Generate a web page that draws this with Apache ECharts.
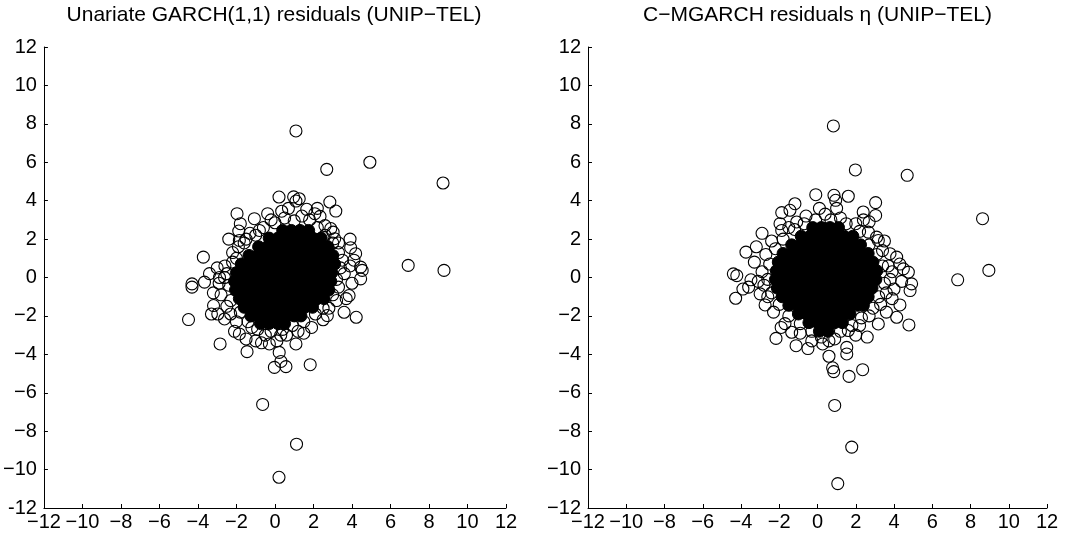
<!DOCTYPE html>
<html>
<head>
<meta charset="utf-8">
<script src="https://cdn.jsdelivr.net/npm/echarts@6/dist/echarts.min.js"></script>
<style>
html,body{margin:0;padding:0;background:#fff;}
#chart{width:1085px;height:537px;}
</style>
</head>
<body>
<div id="chart"></div>
<script>
// ---- Data ----
const titles = ['Unariate GARCH(1,1) residuals (UNIP\u2212TEL)', 'C\u2212MGARCH residuals \u03b7 (UNIP\u2212TEL)'];
const tickValues = [-12,-10,-8,-6,-4,-2,0,2,4,6,8,10,12];
const xTickLabels = ['\u221212','\u221210','\u22128','\u22126','\u22124','\u22122','0','2','4','6','8','10','12'];
const yTickLabelsLeft = ['-12','\u221210','\u22128','\u22126','\u22124','\u22122','0','2','4','6','8','10','12'];
const yTickLabelsRight = ['\u221212','\u221210','\u22128','\u22126','\u22124','\u22122','0','2','4','6','8','10','12'];

// Left panel: dense core of the cloud (overlapping markers appear solid black)
const leftCore = [
 [0.4,2.45],[0.85,2.45],[1.3,2.45],[1.75,2.45],
 [-0.3,2.05],[0.15,2.05],[0.6,2.05],[1.05,2.05],[1.5,2.05],[1.95,2.05],[2.4,2.05],
 [-0.85,1.6],[-0.4,1.6],[0.05,1.6],[0.5,1.6],[0.95,1.6],[1.4,1.6],[1.85,1.6],[2.3,1.6],[2.75,1.6],
 [-1.35,1.15],[-0.9,1.15],[-0.45,1.15],[0.0,1.15],[0.45,1.15],[0.9,1.15],[1.35,1.15],[1.8,1.15],[2.25,1.15],[2.7,1.15],[3.0,1.15],
 [-1.75,0.7],[-1.3,0.7],[-0.85,0.7],[-0.4,0.7],[0.05,0.7],[0.5,0.7],[0.95,0.7],[1.4,0.7],[1.85,0.7],[2.3,0.7],[2.75,0.7],[3.1,0.7],
 [-2.0,0.25],[-1.55,0.25],[-1.1,0.25],[-0.65,0.25],[-0.2,0.25],[0.25,0.25],[0.7,0.25],[1.15,0.25],[1.6,0.25],[2.05,0.25],[2.5,0.25],[2.95,0.25],
 [-2.1,-0.2],[-1.65,-0.2],[-1.2,-0.2],[-0.75,-0.2],[-0.3,-0.2],[0.15,-0.2],[0.6,-0.2],[1.05,-0.2],[1.5,-0.2],[1.95,-0.2],[2.4,-0.2],[2.9,-0.2],
 [-2.05,-0.65],[-1.6,-0.65],[-1.15,-0.65],[-0.7,-0.65],[-0.25,-0.65],[0.2,-0.65],[0.65,-0.65],[1.1,-0.65],[1.55,-0.65],[2.0,-0.65],[2.45,-0.65],[2.8,-0.65],
 [-1.85,-1.1],[-1.4,-1.1],[-0.95,-1.1],[-0.5,-1.1],[-0.05,-1.1],[0.4,-1.1],[0.85,-1.1],[1.3,-1.1],[1.75,-1.1],[2.2,-1.1],[2.55,-1.1],
 [-1.6,-1.55],[-1.15,-1.55],[-0.7,-1.55],[-0.25,-1.55],[0.2,-1.55],[0.65,-1.55],[1.1,-1.55],[1.55,-1.55],[1.95,-1.55],
 [-1.25,-2.0],[-0.8,-2.0],[-0.35,-2.0],[0.1,-2.0],[0.55,-2.0],[1.0,-2.0],[1.35,-2.0],
 [-0.75,-2.4],[-0.3,-2.4],[0.15,-2.4],[0.5,-2.4]
];
// Left panel: individually visible residuals around the core and outliers
const leftOuter = [
 [1.09,7.63],[2.69,5.63],[4.93,6.0],[8.73,4.92],[6.92,0.63],[8.78,0.37],[-0.64,-6.61],[1.12,-8.68],[0.21,-10.4],
 [0.21,4.19],[0.97,4.2],[1.26,4.1],[1.09,3.98],[2.85,3.93],[3.16,3.46],[-1.97,3.32],[-0.38,3.32],[-1.07,3.06],
 [2.07,3.32],[2.34,3.18],[-1.88,2.42],[-1.85,1.93],[-0.81,2.45],[3.02,2.36],[3.1,2.02],[3.93,1.55],[4.19,1.24],
 [-3.72,1.06],[4.45,0.54],[4.53,0.37],[4.45,-0.07],[-2.88,0.0],[-2.62,0.0],[-3.66,-0.24],[-4.31,-0.33],[-4.31,-0.5],
 [-3.19,-1.46],[-2.97,-1.9],[-2.62,-2.16],[-4.49,-2.19],[3.59,-1.81],[4.22,-2.07],[2.72,-1.98],[3.85,-0.94],
 [-1.85,-2.94],[-1.5,-3.2],[-2.85,-3.46],[-1.45,-3.86],[1.09,-3.46],[0.22,-3.9],[-0.03,-4.68],[0.57,-4.64],
 [0.31,-4.37],[1.83,-4.54],[-0.29,-3.46],
 [-0.2,3.0],[0.5,3.1],[1.4,3.2],[1.8,3.0],[-1.3,2.3],[2.6,2.7],[3.3,1.8],[3.5,0.9],[3.6,0.2],[3.3,-0.5],
 [3.2,-1.2],[2.5,-2.2],[1.9,-2.6],[1.2,-2.8],[0.6,-3.0],[-0.5,-3.0],[-1.2,-2.6],[-2.0,-2.3],[-2.5,-1.5],
 [-2.8,-0.9],[-2.6,0.6],[-2.2,1.3],[-1.6,1.8],[-3.0,0.5],[-2.3,-1.9],[2.8,-1.6],[3.9,0.6],[4.0,-0.3],
 [-3.2,-0.8],[-1.0,-3.3],[0.1,-3.3],[2.2,3.6],[0.7,3.6],[-2.4,2.0],[-3.3,-1.9],
 [-0.6,2.6],[0.0,2.85],[0.35,3.45],[1.0,2.95],[1.65,3.55],[2.2,2.6],[2.9,2.55],[-1.5,2.0],[-1.0,2.2],[-2.0,1.0],
 [-2.5,0.2],[-2.4,-0.4],[-2.3,-1.2],[-1.8,-1.8],[-1.4,-2.3],[-0.9,-2.7],[-0.2,-2.8],[0.4,-2.7],[0.9,-2.5],[1.5,-2.3],
 [2.1,-1.9],[2.5,-1.6],[3.0,-0.9],[3.2,-0.1],[3.4,0.5],[3.3,1.3],[3.0,1.8],[2.6,2.2],[-2.9,-0.3],[-2.2,0.8],
 [-1.9,1.6],[1.5,-2.9],[0.3,-3.0],[-0.7,-3.4],[-2.1,-2.8],[3.7,-1.1],[4.1,0.9],[3.9,2.0],[-3.4,0.2],[-1.8,2.8]
];

// Right panel: dense core
const rightCore = [
 [-0.25,2.6],[0.2,2.6],[0.65,2.6],[1.1,2.6],
 [-0.85,2.15],[-0.4,2.15],[0.05,2.15],[0.5,2.15],[0.95,2.15],[1.4,2.15],[1.85,2.15],
 [-1.35,1.7],[-0.9,1.7],[-0.45,1.7],[0.0,1.7],[0.45,1.7],[0.9,1.7],[1.35,1.7],[1.8,1.7],[2.25,1.7],
 [-1.8,1.25],[-1.35,1.25],[-0.9,1.25],[-0.45,1.25],[0.0,1.25],[0.45,1.25],[0.9,1.25],[1.35,1.25],[1.8,1.25],[2.25,1.25],[2.65,1.25],
 [-2.05,0.8],[-1.6,0.8],[-1.15,0.8],[-0.7,0.8],[-0.25,0.8],[0.2,0.8],[0.65,0.8],[1.1,0.8],[1.55,0.8],[2.0,0.8],[2.45,0.8],[2.9,0.8],
 [-2.15,0.35],[-1.7,0.35],[-1.25,0.35],[-0.8,0.35],[-0.35,0.35],[0.1,0.35],[0.55,0.35],[1.0,0.35],[1.45,0.35],[1.9,0.35],[2.35,0.35],[2.8,0.35],[3.1,0.35],
 [-2.2,-0.1],[-1.75,-0.1],[-1.3,-0.1],[-0.85,-0.1],[-0.4,-0.1],[0.05,-0.1],[0.5,-0.1],[0.95,-0.1],[1.4,-0.1],[1.85,-0.1],[2.3,-0.1],[2.75,-0.1],[3.05,-0.1],
 [-2.1,-0.55],[-1.65,-0.55],[-1.2,-0.55],[-0.75,-0.55],[-0.3,-0.55],[0.15,-0.55],[0.6,-0.55],[1.05,-0.55],[1.5,-0.55],[1.95,-0.55],[2.4,-0.55],[2.85,-0.55],
 [-1.85,-1.0],[-1.4,-1.0],[-0.95,-1.0],[-0.5,-1.0],[-0.05,-1.0],[0.4,-1.0],[0.85,-1.0],[1.3,-1.0],[1.75,-1.0],[2.2,-1.0],[2.65,-1.0],
 [-1.5,-1.45],[-1.05,-1.45],[-0.6,-1.45],[-0.15,-1.45],[0.3,-1.45],[0.75,-1.45],[1.2,-1.45],[1.65,-1.45],[2.1,-1.45],[2.4,-1.45],
 [-1.0,-1.9],[-0.55,-1.9],[-0.1,-1.9],[0.35,-1.9],[0.8,-1.9],[1.25,-1.9],[1.7,-1.9],
 [-0.45,-2.35],[0.0,-2.35],[0.45,-2.35],[0.9,-2.35],[1.3,-2.35],
 [0.1,-2.8],[0.55,-2.8]
];
// Right panel: individually visible residuals and outliers
const rightOuter = [
 [0.83,7.89],[1.98,5.6],[4.69,5.32],[8.63,3.06],[8.96,0.37],[7.33,-0.12],[0.9,-6.66],[1.79,-8.83],[1.06,-10.73],
 [-0.09,4.31],[0.86,4.28],[0.95,4.02],[1.61,4.23],[3.04,3.9],[3.04,3.23],[2.39,3.41],[-1.18,3.84],[-1.87,3.38],
 [-1.44,3.5],[-1.96,2.8],[-1.87,2.45],[-1.09,2.89],[-3.74,1.32],[-4.4,0.19],[-4.22,0.1],[-3.48,-0.12],[-4.28,-1.08],
 [-3.0,-0.85],[-2.74,-1.43],[-2.17,-3.17],[-1.12,-3.55],[-1.35,-2.85],[3.18,-2.42],[4.14,-2.07],[4.31,-1.43],
 [4.78,-2.47],[4.84,-0.68],[4.92,-0.33],[4.75,0.28],[4.49,0.45],[4.14,1.06],[3.79,1.24],[3.18,1.93],[3.09,2.1],
 [2.66,2.36],[1.53,-3.64],[1.53,-3.98],[0.79,-4.7],[0.85,-4.9],[1.65,-5.15],[2.36,-4.8],[1.61,-2.76],[0.27,-3.46],
 [-0.6,3.2],[0.4,3.3],[1.2,3.1],[2.0,2.8],[-2.4,1.9],[-2.7,1.2],[-2.9,0.3],[-2.8,-0.4],[-2.6,-1.0],[-2.3,-1.8],
 [-1.7,-2.4],[-0.9,-2.9],[0.2,-3.1],[0.9,-3.2],[2.2,-2.5],[2.7,-2.0],[3.3,-1.4],[3.6,-0.8],[3.8,-0.1],[3.7,0.6],
 [3.4,1.4],[2.7,2.9],[-1.5,2.6],[-3.3,0.8],[-3.6,-0.5],[4.0,-0.6],[3.9,0.3],[3.6,-1.8],[-0.3,-3.3],[2.0,-3.0],
 [-0.7,2.8],[-0.1,3.0],[0.7,3.0],[1.5,2.8],[2.2,2.4],[2.7,1.7],[3.1,1.2],[3.4,0.6],[3.5,-0.3],[3.2,-1.0],
 [2.9,-1.6],[2.3,-2.1],[1.8,-2.5],[1.2,-2.8],[0.6,-3.3],[-0.3,-2.8],[-0.9,-2.4],[-1.5,-2.0],[-2.0,-1.4],[-2.4,-0.8],
 [-2.6,-0.1],[-2.5,0.7],[-2.2,1.5],[-1.8,2.0],[-1.2,2.5],[0.1,3.6],[1.0,3.6],[2.4,3.0],[3.5,1.9],[4.3,0.7],
 [4.4,-0.2],[3.9,-1.1],[-3.1,-0.2],[-3.2,1.6],[-2.9,2.3],[-1.9,-2.6],[-0.5,-3.7],[0.6,-4.1],[2.6,-3.1],[-3.9,-0.6]
];

// ---- Chart ----
const FONT = '"Liberation Sans", Arial, Helvetica, sans-serif';
const chart = echarts.init(document.getElementById('chart'), null, {renderer: 'canvas'});

function labelFor(arr) {
  return function (v) {
    const i = tickValues.indexOf(Math.round(v));
    return i >= 0 ? arr[i] : '';
  };
}
function xAxisCfg(gi) {
  return {
    type: 'value', gridIndex: gi, min: -12, max: 12, interval: 2,
    axisLine: {show: true, onZero: false, lineStyle: {color: '#000', width: 1}},
    axisTick: {show: true, inside: true, length: 4, lineStyle: {color: '#000', width: 1}},
    splitLine: {show: false},
    axisLabel: {show: true, color: '#000', fontSize: 20, fontFamily: FONT, margin: 4,
      showMinLabel: true, showMaxLabel: true, hideOverlap: false, formatter: labelFor(xTickLabels)}
  };
}
function yAxisCfg(gi, labels) {
  return {
    type: 'value', gridIndex: gi, min: -12, max: 12, interval: 2,
    axisLine: {show: true, onZero: false, lineStyle: {color: '#000', width: 1}},
    axisTick: {show: true, inside: true, length: 4, lineStyle: {color: '#000', width: 1}},
    splitLine: {show: false},
    axisLabel: {show: true, color: '#000', fontSize: 20, fontFamily: FONT, margin: 7,
      showMinLabel: true, showMaxLabel: true, hideOverlap: false, formatter: labelFor(labels)}
  };
}
const coreStyle = {color: '#000', borderColor: '#000', borderWidth: 1, opacity: 1};
const ringStyle = {color: 'rgba(0,0,0,0)', borderColor: '#000', borderWidth: 1.1, opacity: 1};

chart.setOption({
  animation: false,
  backgroundColor: '#fff',
  grid: [
    {left: 42, right: 579, top: 47, bottom: 29, containLabel: false},
    {left: 588, right: 38, top: 47, bottom: 29, containLabel: false}
  ],
  xAxis: [xAxisCfg(0), xAxisCfg(1)],
  yAxis: [yAxisCfg(0, yTickLabelsLeft), yAxisCfg(1, yTickLabelsRight)],
  graphic: [
    {type: 'text', x: 274, y: 15, style: {text: titles[0], fill: '#000', font: '21px ' + FONT, textAlign: 'center', textVerticalAlign: 'middle'}},
    {type: 'text', x: 817.5, y: 15, style: {text: titles[1], fill: '#000', font: '21px ' + FONT, textAlign: 'center', textVerticalAlign: 'middle'}}
  ],
  series: [
    {type: 'scatter', xAxisIndex: 0, yAxisIndex: 0, symbol: 'circle', symbolSize: 12, data: leftCore, itemStyle: coreStyle, silent: true},
    {type: 'scatter', xAxisIndex: 0, yAxisIndex: 0, symbol: 'circle', symbolSize: 12, data: leftOuter, itemStyle: ringStyle, silent: true},
    {type: 'scatter', xAxisIndex: 1, yAxisIndex: 1, symbol: 'circle', symbolSize: 12, data: rightCore, itemStyle: coreStyle, silent: true},
    {type: 'scatter', xAxisIndex: 1, yAxisIndex: 1, symbol: 'circle', symbolSize: 12, data: rightOuter, itemStyle: ringStyle, silent: true}
  ]
});
</script>
</body>
</html>
